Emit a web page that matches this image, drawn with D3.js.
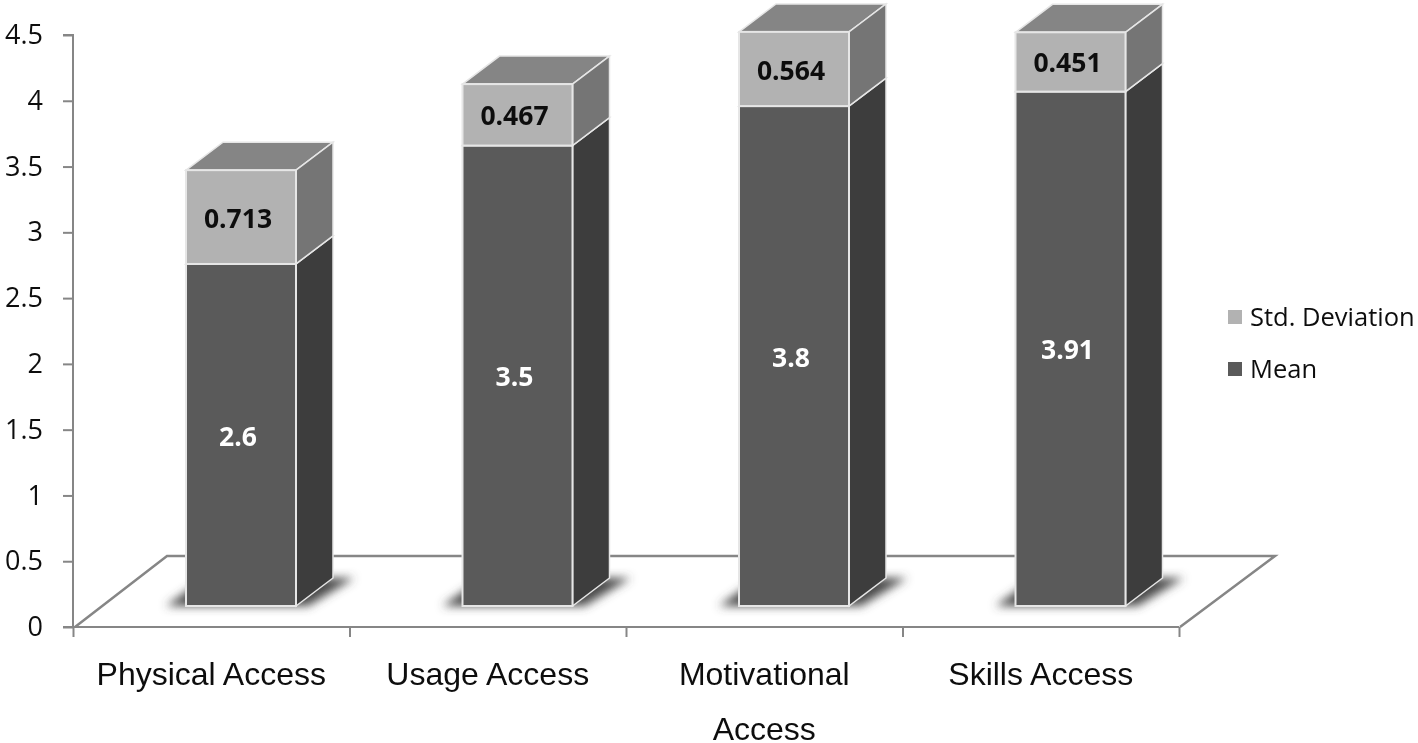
<!DOCTYPE html>
<html>
<head>
<meta charset="utf-8">
<script src="https://cdnjs.cloudflare.com/ajax/libs/d3/7.8.5/d3.min.js"></script>
<style>
  html, body { margin: 0; padding: 0; background: #fff; }
  svg { display: block; }
  .axis path, .axis line { stroke: #868686; stroke-width: 2; }
  .axis text { fill: #111; }
</style>
</head>
<body>
<div id="chart"></div>
<script>
let w = 1418,
    h = 743;

// values
let categories = ["Physical Access", "Usage Access", "Motivational Access", "Skills Access"];
let mean = [2.6, 3.5, 3.8, 3.91];
let stdDev = [0.713, 0.467, 0.564, 0.451];
let meanLabels = ["2.6", "3.5", "3.8", "3.91"];
let stdLabels = ["0.713", "0.467", "0.564", "0.451"];
let yTicks = [0, 0.5, 1, 1.5, 2, 2.5, 3, 3.5, 4, 4.5];

// 3d look of the bars
let depth = { x: 37, y: -28 };
let floorLift = 21;
let barWidth = 110;

let colors = {
  mean: { front: "#5a5a5a", side: "#3d3d3d", top: "#6b6b6b" },
  std: { front: "#b2b2b2", side: "#757575", top: "#858585" }
};

let x = d3.scaleBand().domain(categories).range([73, 1179]);
let y = d3.scaleLinear().domain([0, 4.5]).range([627, 35]);
let edges = d3.scaleLinear().domain([0, categories.length]).range([73, 1179]);

let svg = d3.select("#chart")
            .append("svg")
            .attr("width", w)
            .attr("height", h);

let defs = svg.append("defs");
defs.append("filter").attr("id", "shadow-blur")
    .attr("x", "-30%").attr("y", "-60%").attr("width", "160%").attr("height", "220%")
    .append("feGaussianBlur").attr("stdDeviation", 5);
defs.append("filter").attr("id", "soft")
    .attr("filterUnits", "userSpaceOnUse")
    .attr("x", 0).attr("y", 0)
    .attr("width", w).attr("height", h)
    .append("feGaussianBlur").attr("stdDeviation", 0.5);

let g = svg.append("g").attr("filter", "url(#soft)");

// floor of the 3d plot
let floorY = y(0) - 71;
g.append("path")
  .attr("d", `M${x.range()[0] + 2},${y(0)} L${x.range()[0] + 94},${floorY} L1275,${floorY} L${x.range()[1] + 1},${y(0)}`)
  .attr("fill", "none")
  .attr("stroke", "#868686")
  .attr("stroke-width", 2.5);

// axes
let yAxis = d3.axisLeft(y)
  .tickValues(yTicks)
  .tickSize(10)
  .tickPadding(8)
  .tickFormat(d3.format("~g"));

g.append("g")
  .attr("class", "axis")
  .attr("transform", "translate(73,0)")
  .call(yAxis)
  .call(a => a.select(".domain").attr("d", `M-10,${y(4.5)} H0 V${y(0)} H-10`))
  .selectAll("text")
  .style("font-family", "'Open Sans', sans-serif")
  .style("font-size", "27px")
  .attr("x", -30);

let xAxis = d3.axisBottom(edges)
  .tickValues(d3.range(categories.length + 1))
  .tickSize(10)
  .tickFormat("");

g.append("g")
  .attr("class", "axis")
  .attr("transform", `translate(0,${y(0)})`)
  .call(xAxis)
  .call(a => a.select(".domain").attr("d", `M${edges(0)},0 H${edges(categories.length)}`));

// bars
let bars = g.selectAll(".bar")
  .data(categories)
  .enter()
  .append("g")
  .attr("class", "bar");

let frontX = d => x(d) + 113;
let frontY = v => y(v) - floorLift;

// shadow on the floor
bars.append("path")
  .attr("d", d => {
    let l = frontX(d);
    let b = frontY(0);
    return `M${l - 20},${b} L${l + barWidth + 12},${b} L${l + barWidth + 58},${b - 28} L${l + 20},${b - 28} Z`;
  })
  .attr("fill", "#484848")
  .attr("filter", "url(#shadow-blur)");

function drawSegment(sel, from, to, c) {
  // top
  sel.append("path")
    .attr("d", (d, i) => {
      let l = frontX(d), t = frontY(to(i));
      return `M${l},${t} L${l + depth.x},${t + depth.y} L${l + barWidth + depth.x},${t + depth.y} L${l + barWidth},${t} Z`;
    })
    .attr("fill", c.top)
    .attr("stroke", "#e6e6e6")
    .attr("stroke-width", 1.5);
  // side
  sel.append("path")
    .attr("d", (d, i) => {
      let l = frontX(d) + barWidth, t = frontY(to(i)), b = frontY(from(i));
      return `M${l},${t} L${l + depth.x},${t + depth.y} L${l + depth.x},${b + depth.y} L${l},${b} Z`;
    })
    .attr("fill", c.side)
    .attr("stroke", "#e6e6e6")
    .attr("stroke-width", 1.5);
  // front
  sel.append("rect")
    .attr("x", d => frontX(d))
    .attr("y", (d, i) => frontY(to(i)))
    .attr("width", barWidth)
    .attr("height", (d, i) => frontY(from(i)) - frontY(to(i)))
    .attr("fill", c.front)
    .attr("stroke", "#e6e6e6")
    .attr("stroke-width", 2);
}

drawSegment(bars, () => 0, i => mean[i], colors.mean);
drawSegment(bars, i => mean[i], i => mean[i] + stdDev[i], colors.std);

// value labels
let valueFont = "'Open Sans', sans-serif";
bars.append("text")
  .attr("x", d => frontX(d) + barWidth / 2 - 3)
  .attr("y", (d, i) => frontY(mean[i] / 2) + 1)
  .attr("dy", "0.36em")
  .attr("text-anchor", "middle")
  .style("font-family", valueFont)
  .style("font-size", "26.5px")
  .style("font-weight", "700")
  .attr("fill", "#fff")
  .text((d, i) => meanLabels[i]);

bars.append("text")
  .attr("x", d => frontX(d) + barWidth / 2 - 3)
  .attr("y", (d, i) => frontY(mean[i] + stdDev[i] / 2) + 1)
  .attr("dy", "0.36em")
  .attr("text-anchor", "middle")
  .style("font-family", valueFont)
  .style("font-size", "26.5px")
  .style("font-weight", "700")
  .attr("fill", "#111")
  .text((d, i) => stdLabels[i]);

// category labels, long ones wrap to a second line
let catLabels = g.selectAll(".cat")
  .data(categories)
  .enter()
  .append("text")
  .attr("class", "cat")
  .attr("x", d => x(d) + x.bandwidth() / 2)
  .attr("y", 685)
  .attr("text-anchor", "middle")
  .style("font-family", "'Liberation Sans', Arial, sans-serif")
  .style("font-size", "32px")
  .attr("fill", "#111");

catLabels.each(function(d) {
  let el = d3.select(this);
  if (d === "Motivational Access") {
    el.append("tspan").attr("x", x(d) + x.bandwidth() / 2).text("Motivational");
    el.append("tspan").attr("x", x(d) + x.bandwidth() / 2).attr("y", 740).text("Access");
  } else {
    el.text(d);
  }
});

// legend
let legendItems = [
  { name: "Std. Deviation", color: colors.std.front },
  { name: "Mean", color: colors.mean.front }
];
let legendY = d3.scalePoint().domain(legendItems.map(d => d.name)).range([317, 369]);

let legend = g.selectAll(".legend")
  .data(legendItems)
  .enter()
  .append("g")
  .attr("class", "legend")
  .attr("transform", d => `translate(1228,${legendY(d.name)})`);

legend.append("rect")
  .attr("y", -7)
  .attr("width", 14)
  .attr("height", 14)
  .attr("fill", d => d.color);

legend.append("text")
  .attr("x", 22)
  .attr("dy", "0.36em")
  .style("font-family", "'Open Sans', sans-serif")
  .style("font-size", "25.5px")
  .attr("fill", "#111")
  .text(d => d.name);
</script>
</body>
</html>
